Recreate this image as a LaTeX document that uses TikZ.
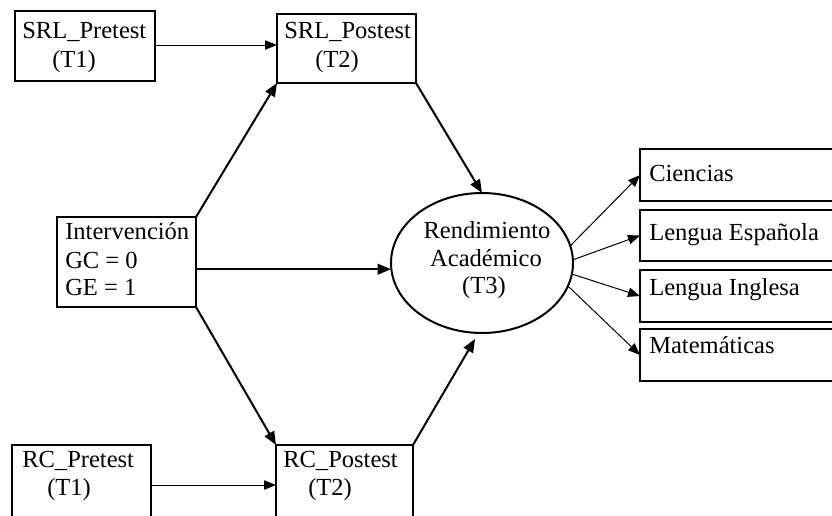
\documentclass[tikz,border=0pt]{standalone}
\usepackage{fontspec}
\setmainfont{Liberation Serif}
\usetikzlibrary{arrows.meta,shapes.geometric,calc}
\begin{document}
\begin{tikzpicture}[x=0.75pt,y=-0.75pt,
  box/.style={draw,line width=1.5pt,rectangle,inner sep=0pt,outer sep=0pt,anchor=north west},
  ell/.style={draw,line width=1.5pt,ellipse,inner sep=0pt,outer sep=0pt,minimum width=136.5pt,minimum height=105pt},
  txt/.style={inner sep=0pt,anchor=base west,font=\fontsize{18.4pt}{21pt}\selectfont},
  ctxt/.style={txt,anchor=base},
  thick arrow/.style={line width=1.5pt,-{Triangle[length=10pt,width=8pt]}},
  thin arrow/.style={line width=0.75pt,-{Triangle[length=9pt,width=7pt]}}]
\useasboundingbox (0,0) rectangle (832,515);
% boxes
\node[box,minimum width=105pt,minimum height=52.5pt] (srlpre) at (15,11) {};
\node[box,minimum width=104.25pt,minimum height=51.75pt] (srlpost) at (277,14) {};
\node[box,minimum width=104.25pt,minimum height=67.5pt] (inter) at (57,217) {};
\node[box,minimum width=104.25pt,minimum height=60pt] (rcpre) at (12,445) {};
\node[box,minimum width=102.75pt,minimum height=60pt] (rcpost) at (276,445) {};
\node[box,minimum width=150pt,minimum height=39pt] (cien) at (640,149) {};
\node[box,minimum width=150pt,minimum height=38.25pt] (esp) at (640,210) {};
\node[box,minimum width=150pt,minimum height=39pt] (ing) at (640,270) {};
\node[box,minimum width=150pt,minimum height=39pt] (mat) at (640,329) {};
\node[ell] (rend) at (482,263) {};
% texts
\node[txt] (t1) at (22,38) {SRL\_Pretest};
\node[txt] (t2) at (52,67) {(T1)};
\node[txt] (t3) at (284,38) {SRL\_Postest};
\node[txt] (t4) at (315,67) {(T2)};
\node[txt] (t5) at (65,239) {Intervención};
\node[txt] (t6) at (65,268) {GC = 0};
\node[txt] (t7) at (65,295) {GE = 1};
\node[ctxt] (t8) at (487,238) {Rendimiento};
\node[ctxt] (t9) at (486,266) {Académico};
\node[ctxt] (t10) at (484,293) {(T3)};
\node[txt] (t11) at (649,181) {Ciencias};
\node[txt] (t12) at (649,240) {Lengua Española};
\node[txt] (t13) at (649,295) {Lengua Inglesa};
\node[txt] (t14) at (649,353) {Matemáticas};
\node[txt] (t15) at (22,467) {RC\_Pretest};
\node[txt] (t16) at (47,495) {(T1)};
\node[txt] (t17) at (283,467) {RC\_Postest};
\node[txt] (t18) at (308,495) {(T2)};
% connectors
\coordinate (srlprearr) at ($(srlpre.east)+(0,-1)$);
\draw[thin arrow] (srlprearr) -- (srlprearr -| srlpost.west);
\draw[thin arrow] (rcpre.east) -- (rcpre.east -| rcpost.west);
\draw[thick arrow] (inter.north east) -- (srlpost.south west);
\draw[thick arrow] (inter.south east) -- (rcpost.north west);
\coordinate (intarr) at ($(inter.north east)!0.58!(inter.south east)$);
\draw[thick arrow] (intarr) -- (intarr -| rend.west);
\draw[thick arrow] (srlpost.south east) -- (rend.north);
\coordinate (rendbot) at ($(rend.south)+(-7,6)$);
\draw[thick arrow] (rcpost.north east) -- (rendbot);
\draw[thin arrow] (rend.11) -- (cien.west);
\draw[thin arrow] (rend.2) -- (esp.west);
\draw[thin arrow] (rend.-7) -- (ing.west);
\draw[thin arrow] (rend.-15) -- (mat.west);
\end{tikzpicture}
\end{document}
